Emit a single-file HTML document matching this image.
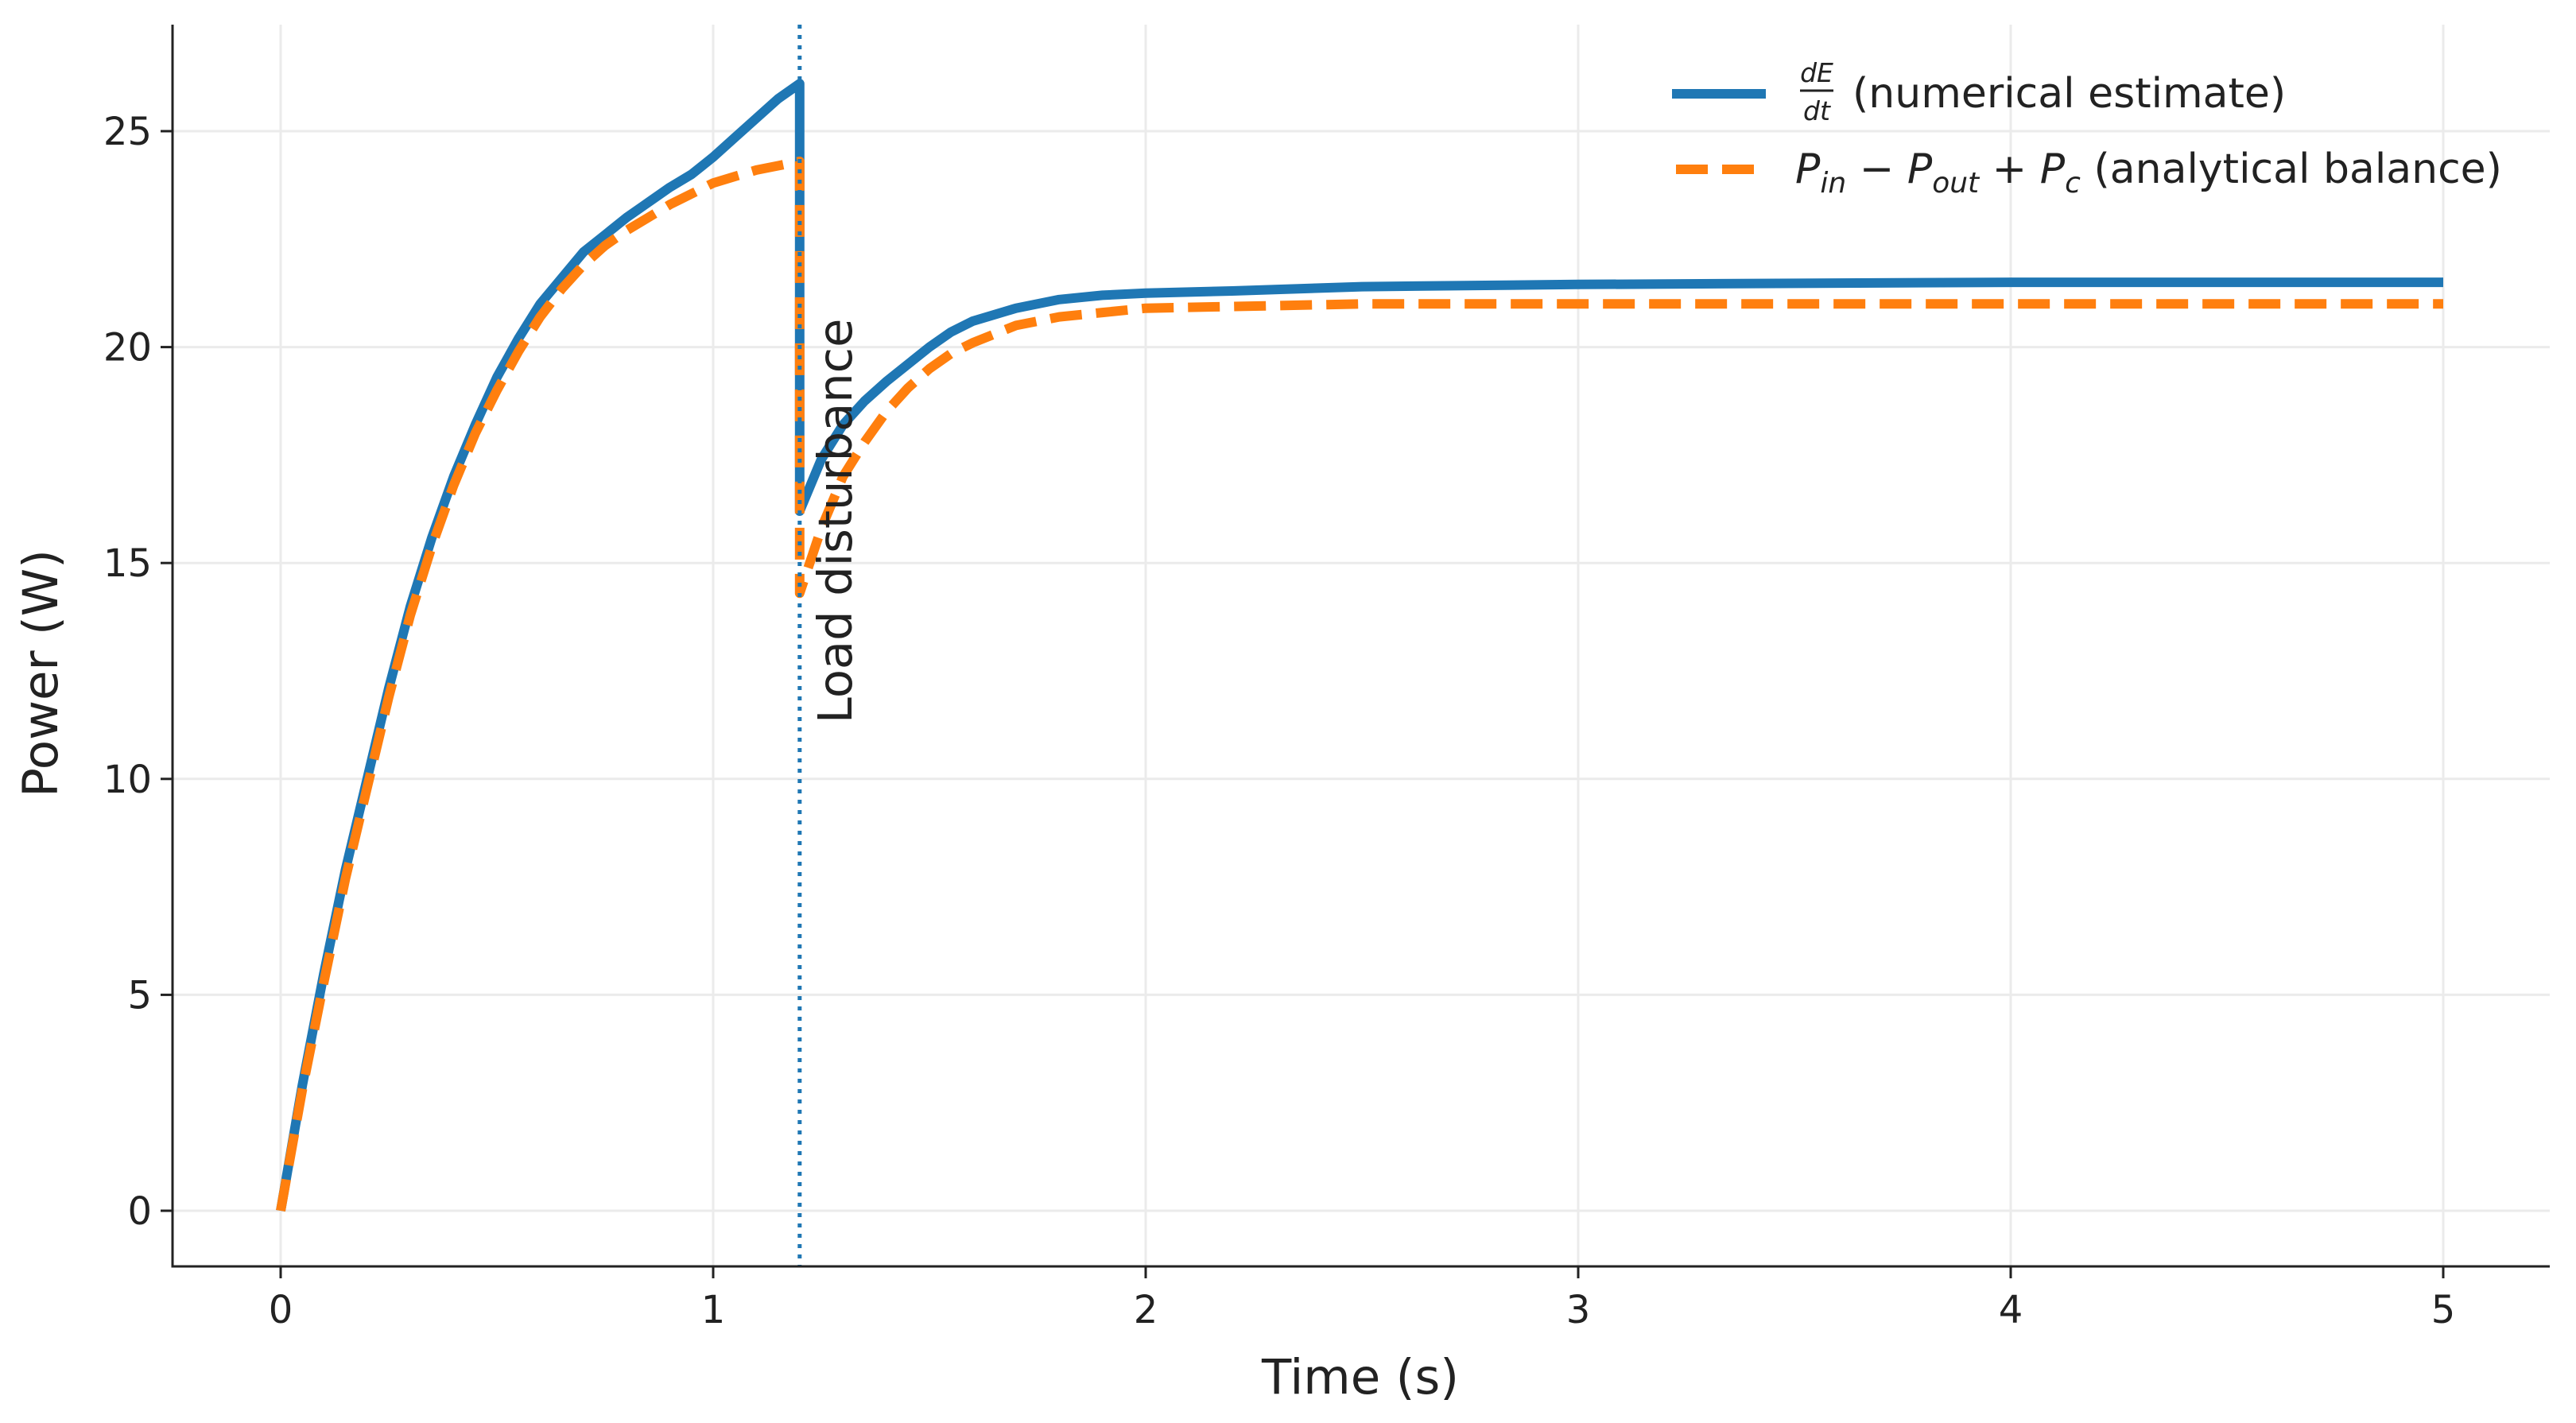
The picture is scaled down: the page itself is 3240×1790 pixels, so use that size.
<!DOCTYPE html>
<html><head><meta charset="utf-8"><style>
html,body{margin:0;padding:0;background:#fff;}
svg{display:block;font-family:"DejaVu Sans","Liberation Sans",sans-serif;}
</style></head><body>
<svg id="chart" width="3240" height="1790" viewBox="0 0 3240 1790" xmlns="http://www.w3.org/2000/svg">
<g id="grid"></g>
<g id="series"></g>
<g id="axes"></g>
<text x="1711" y="1753" font-size="61" text-anchor="middle" fill="#222">Time (s)</text>
<text transform="translate(72,847) rotate(-90)" font-size="61" text-anchor="middle" fill="#222">Power (W)</text>
<text transform="translate(1071,910) rotate(-90)" font-size="59" fill="#222">Load disturbance</text>
<g>
  <line x1="2103" y1="118" x2="2221" y2="118" stroke="#1f77b4" stroke-width="12"/>
  <text x="2285" y="103" font-size="33" font-style="italic" text-anchor="middle" fill="#222">dE</text>
  <line x1="2264" y1="114" x2="2306" y2="114" stroke="#222" stroke-width="3"/>
  <text x="2285" y="151" font-size="33" font-style="italic" text-anchor="middle" fill="#222">dt</text>
  <text x="2330" y="135" font-size="52" fill="#222">(numerical estimate)</text>
  <line x1="2108" y1="213" x2="2221" y2="213" stroke="#ff7f0e" stroke-width="12" stroke-dasharray="40 18"/>
  <text x="2258" y="230" font-size="52" fill="#222"><tspan font-style="italic">P</tspan><tspan font-style="italic" font-size="36" dy="12">in</tspan><tspan dy="-12"> − </tspan><tspan font-style="italic">P</tspan><tspan font-style="italic" font-size="36" dy="12">out</tspan><tspan dy="-12"> + </tspan><tspan font-style="italic">P</tspan><tspan font-style="italic" font-size="36" dy="12">c</tspan><tspan dy="-12"> (analytical balance)</tspan></text>
</g>
</svg>
<script>
const xTicks=[0,1,2,3,4,5];
const yTicks=[0,5,10,15,20,25];
const disturbanceT=1.2;
const numT=[0,0.05,0.1,0.15,0.2,0.25,0.3,0.35,0.4,0.45,0.5,0.55,0.6,0.65,0.7,0.75,0.8,0.85,0.9,0.95,1.0,1.05,1.1,1.15,1.2,1.2,1.25,1.3,1.35,1.4,1.45,1.5,1.55,1.6,1.65,1.7,1.8,1.9,2.0,2.2,2.5,3.0,4.0,5.0];
const numP=[0,2.9,5.5,7.9,10,12.1,14,15.6,17,18.2,19.3,20.2,21,21.6,22.2,22.6,23,23.35,23.7,24.0,24.4,24.85,25.3,25.75,26.1,16.2,17.4,18.2,18.75,19.2,19.6,20,20.35,20.6,20.75,20.9,21.1,21.2,21.25,21.3,21.4,21.45,21.5,21.5];
const anaT=[0,0.05,0.1,0.15,0.2,0.25,0.3,0.35,0.4,0.45,0.5,0.55,0.6,0.65,0.7,0.75,0.8,0.85,0.9,0.95,1.0,1.05,1.1,1.15,1.2,1.2,1.25,1.3,1.35,1.4,1.45,1.5,1.55,1.6,1.65,1.7,1.8,1.9,2.0,2.5,3.0,5.0];
const anaP=[0,2.8,5.3,7.7,9.8,11.9,13.8,15.4,16.8,18,19,19.9,20.7,21.35,21.9,22.35,22.7,23.0,23.3,23.55,23.8,23.95,24.1,24.2,24.3,14.3,15.8,17,17.8,18.5,19.05,19.5,19.85,20.1,20.3,20.5,20.7,20.8,20.9,21,21,21];
const X0=353,X5=3073,Y0=1523,Y25=165;
const L=217,B=1593,R=3207,T=31;
function sx(t){return X0+(X5-X0)*t/5;}
function sy(v){return Y0+(Y25-Y0)*v/25;}
const NS="http://www.w3.org/2000/svg";
function mk(tag,attrs,parent){const e=document.createElementNS(NS,tag);for(const k in attrs)e.setAttribute(k,attrs[k]);parent.appendChild(e);return e;}
const grid=document.getElementById('grid'),axes=document.getElementById('axes'),series=document.getElementById('series');
xTicks.forEach(t=>{
  const g=mk('line',{x1:sx(t),x2:sx(t),y1:T,y2:B,stroke:'#ebebeb','stroke-width':3},grid);
  
  
  mk('line',{x1:sx(t),x2:sx(t),y1:B,y2:B+15,stroke:'#222','stroke-width':3},axes);
  const tx=mk('text',{x:sx(t),y:B+71,'font-size':48,'text-anchor':'middle',fill:'#222'},axes);
  tx.textContent=t;
  
  
});
yTicks.forEach(v=>{
  const g=mk('line',{x1:L,x2:R,y1:sy(v),y2:sy(v),stroke:'#ebebeb','stroke-width':3},grid);
  
  
  mk('line',{x1:L-15,x2:L,y1:sy(v),y2:sy(v),stroke:'#222','stroke-width':3},axes);
  const tx=mk('text',{x:L-26,y:sy(v)+17,'font-size':48,'text-anchor':'end',fill:'#222'},axes);
  tx.textContent=v;
  
  
});
const ls=mk('line',{x1:L,x2:L,y1:T,y2:B+1.5,stroke:'#222','stroke-width':3},axes);


const bs=mk('line',{x1:L-1.5,x2:R,y1:B,y2:B,stroke:'#222','stroke-width':3},axes);


function pts(ts,vs){return ts.map((t,i)=>sx(t).toFixed(1)+','+sy(vs[i]).toFixed(1)).join(' ');}
const l1=mk('polyline',{points:pts(numT,numP),fill:'none',stroke:'#1f77b4','stroke-width':12,'stroke-linejoin':'round'},series);


const l2=mk('polyline',{points:pts(anaT,anaP),fill:'none',stroke:'#ff7f0e','stroke-width':12,'stroke-dasharray':'40 18','stroke-linejoin':'round'},series);


const vl=mk('line',{x1:sx(disturbanceT),x2:sx(disturbanceT),y1:T,y2:B,stroke:'#1f77b4','stroke-width':5,'stroke-dasharray':'5 8'},series);


</script>
</body></html>
